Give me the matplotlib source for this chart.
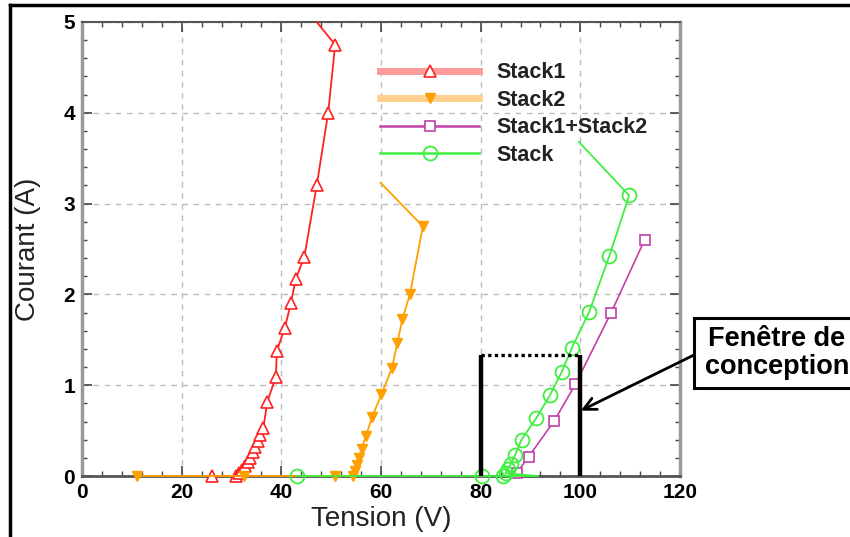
import matplotlib
matplotlib.use('Agg')
import matplotlib.pyplot as plt
from matplotlib.lines import Line2D
from matplotlib.patches import Rectangle
from matplotlib.ticker import MultipleLocator

plt.rcParams['font.family'] = ['Liberation Sans', 'DejaVu Sans']

# courbes courant / tension
s1_v = [26.0, 31.0, 31.6, 32.2, 32.8, 33.3, 33.8, 34.3, 34.8, 35.3, 35.8, 36.4, 37.2,
        38.9, 39.1, 40.7, 41.9, 42.9, 44.6, 47.1, 49.4, 50.8, 47.1]
s1_i = [0, 0, 0.03, 0.07, 0.11, 0.15, 0.20, 0.26, 0.32, 0.38, 0.45, 0.53, 0.82,
        1.09, 1.38, 1.63, 1.90, 2.17, 2.41, 3.20, 4.00, 4.75, 5.0]

s2_v = [11.0, 32.5, 50.8, 54.4, 54.8, 55.2, 55.6, 56.1, 57.0, 58.2, 60.1, 62.2,
        63.3, 64.3, 65.8, 68.4, 59.9]
s2_i = [0, 0, 0, 0, 0.05, 0.12, 0.20, 0.30, 0.44, 0.65, 0.90, 1.19,
        1.47, 1.73, 2.00, 2.75, 3.23]

s12_v = [87.2, 89.6, 94.8, 99.0, 106.1, 112.9]
s12_i = [0.03, 0.21, 0.61, 1.01, 1.79, 2.60]

st_v = [43.2, 80.2, 84.5, 91.5, 85.0, 85.5, 86.0, 86.9, 88.2, 91.2, 93.9, 96.3,
        98.3, 101.8, 105.8, 109.8, 99.7]
st_i = [0, 0, 0, 0, 0.03, 0.08, 0.13, 0.23, 0.40, 0.64, 0.89, 1.15,
        1.41, 1.81, 2.42, 3.09, 3.68]

labels = ['Stack1', 'Stack2', 'Stack1+Stack2', 'Stack']

# fenetre de conception
win_v = [80, 100]
win_i = 1.33
arrow_tip = (100.1, 0.72)

fig = plt.figure(figsize=(8.5, 5.37), dpi=100)
ax = fig.add_axes([82/850, 1-476/537, 598/850, 454/537])

red = '#ff2020'
orange = '#ffa000'
purple = '#c040a8'
green = '#40ee40'

l1, = ax.plot(s1_v, s1_i, color=red, lw=1.3, marker='^', ms=8, mfc='white', mec=red,
              mew=1.2, markevery=list(range(len(s1_v)-1)), clip_on=False, zorder=3)
l2, = ax.plot(s2_v, s2_i, color=orange, lw=1.3, marker='v', ms=7.5, mfc=orange, mec=orange,
              markevery=list(range(len(s2_v)-1)), clip_on=False, zorder=3)
l3, = ax.plot(s12_v, s12_i, color=purple, lw=1.2, marker='s', ms=6.5, mfc='white', mec=purple,
              mew=1.2, clip_on=False, zorder=3)
st_mark = [k for k in range(len(st_v)) if k not in (3, len(st_v)-1)]
l4, = ax.plot(st_v, st_i, color=green, lw=1.3, marker='o', ms=10, mfc='none', mec=green,
              mew=1.3, markevery=st_mark, clip_on=False, zorder=3)

# annotation
ax.vlines(win_v, 0, win_i, color='black', lw=3.2, zorder=4)
ax.plot(win_v, [win_i, win_i], color='black', lw=2.4, ls=(0, (1, 1)), zorder=4)

ax.annotate('', xy=arrow_tip, xycoords='data', xytext=(694/850, 1-355/537),
            textcoords='figure fraction',
            arrowprops=dict(arrowstyle='->', lw=2, color='black', mutation_scale=22,
                            shrinkA=0, shrinkB=0), annotation_clip=False)
fig.add_artist(Rectangle((694/850, 1-388/537), 170/850, 70/537, transform=fig.transFigure,
                         fc='white', ec='black', lw=2.2))
fig.text(777/850, 1-353/537, 'Fenêtre de\nconception', ha='center', va='center',
         fontsize=19.5, fontweight='bold', linespacing=1.1)

ax.set_xlim(0, 120)
ax.set_ylim(0, 5)
ax.xaxis.set_major_locator(MultipleLocator(20))
ax.xaxis.set_minor_locator(MultipleLocator(4))
ax.yaxis.set_major_locator(MultipleLocator(1))
ax.yaxis.set_minor_locator(MultipleLocator(0.2))
ax.tick_params(which='both', direction='in', top=True, right=True, color='#444444')
ax.tick_params(which='major', length=7, width=1.2, labelsize=15, pad=5)
ax.tick_params(which='minor', length=3.5, width=1)
for t in ax.get_xticklabels() + ax.get_yticklabels():
    t.set_fontweight('bold')

ax.grid(True, which='major', color='#bbbbbb', ls=(0, (4, 4)), lw=1)

for side in ['left', 'right']:
    ax.spines[side].set_color('#999999')
    ax.spines[side].set_linewidth(2.5)
ax.spines['top'].set_color('#555555')
ax.spines['top'].set_linewidth(1.5)
ax.spines['bottom'].set_color('#555555')
ax.spines['bottom'].set_linewidth(2)

ax.set_xlabel('Tension (V)', fontsize=20, color='#222222')
ax.set_ylabel('Courant (A)', fontsize=20, color='#222222')
ax.xaxis.set_label_coords(0.5, -0.066)
ax.yaxis.set_label_coords(-0.068, 0.5)

leg = ax.legend([l1, l2, l3, l4], labels, loc='upper left',
                bbox_to_anchor=((376-82)/598, (476-58)/454), frameon=False,
                prop={'size': 15.5, 'weight': 'bold'},
                handlelength=4.6, handletextpad=0.8, labelspacing=0.3,
                borderpad=0.2, borderaxespad=0, numpoints=1)
for t in leg.get_texts():
    t.set_color('#222222')
hl = leg.legend_handles
hl[0].set_color('#ff9a9a')
hl[0].set_linewidth(5)
hl[1].set_color('#ffd090')
hl[1].set_linewidth(5)
hl[2].set_linewidth(1.8)
hl[3].set_linewidth(1.8)

# cadre noir de la capture
fig.add_artist(Line2D([10/850, 10/850], [0, 1-5/537], color='black', lw=2.5))
fig.add_artist(Line2D([10/850, 1], [1-5/537, 1-5/537], color='black', lw=2.5))

fig.savefig('out.png', dpi=100)
